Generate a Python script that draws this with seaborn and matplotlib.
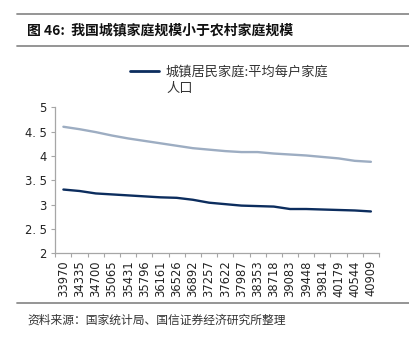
import numpy as np
import pandas as pd
import seaborn as sns
import matplotlib
matplotlib.use("Agg")
import matplotlib.pyplot as plt
from matplotlib.lines import Line2D

# Excel date serials (1 Jan of each year, 1993-2012)
dates = ["33970", "34335", "34700", "35065", "35431", "35796", "36161",
         "36526", "36892", "37257", "37622", "37987", "38353", "38718",
         "39083", "39448", "39814", "40179", "40544", "40909"]
# average persons per household
urban = [3.31, 3.28, 3.23, 3.21, 3.19, 3.17, 3.15, 3.14, 3.10, 3.04,
         3.01, 2.98, 2.97, 2.96, 2.91, 2.91, 2.90, 2.89, 2.88, 2.86]
rural = [4.60, 4.55, 4.49, 4.42, 4.36, 4.31, 4.26, 4.21, 4.16, 4.13,
         4.10, 4.08, 4.08, 4.05, 4.03, 4.01, 3.98, 3.95, 3.90, 3.88]
urban_label = "城镇居民家庭:平均每户家庭人口"
rural_label = "农村居民家庭:平均每户家庭人口"
yticks = [2, 2.5, 3, 3.5, 4, 4.5, 5]
ytick_labels = ["2", "2. 5", "3", "3. 5", "4", "4. 5", "5"]

title = "图 46:  我国城镇家庭规模小于农村家庭规模"
source = "资料来源：国家统计局、国信证券经济研究所整理"

NAVY = "#0C2D5E"
GREYBLUE = "#9DADC2"
AXIS_GREY = "#A6A6A6"

sns.set_theme(style="white")
plt.rcParams["font.family"] = ["Noto Sans CJK SC", "DejaVu Sans"]

df = pd.DataFrame({
    "date": dates * 2,
    "value": urban + rural,
    "series": [urban_label] * len(dates) + [rural_label] * len(dates),
})

W, H = 410, 337
fig = plt.figure(figsize=(W / 100, H / 100), dpi=100)
ax = fig.add_axes([55.3 / W, 1 - 253.3 / H, (379 - 55.3) / W, (253.3 - 107.3) / H])

sns.lineplot(data=df, x="date", y="value", hue="series",
             palette={urban_label: NAVY, rural_label: GREYBLUE},
             linewidth=1.7, ax=ax, legend=False, sort=False)

ax.set_xlim(-0.5, len(dates) - 0.5)
ax.set_ylim(2, 5)
ax.set_xlabel("")
ax.set_ylabel("")

for side in ("top", "right"):
    ax.spines[side].set_visible(False)
for side in ("left", "bottom"):
    ax.spines[side].set_color(AXIS_GREY)
    ax.spines[side].set_linewidth(0.9)

# category labels centred, tick marks on category boundaries
ax.set_xticks(range(len(dates)))
ax.set_xticklabels(dates, rotation=90, fontsize=8.3, family="DejaVu Sans")
ax.set_xticks(np.arange(-0.5, len(dates), 1.0), minor=True)
ax.tick_params(axis="x", which="major", length=0, pad=5, colors="#222222")
ax.tick_params(axis="x", which="minor", length=3.2, width=0.8,
               color=AXIS_GREY, direction="out", bottom=True)

ax.set_yticks(yticks)
ax.set_yticklabels(ytick_labels, fontsize=8.3, family="DejaVu Sans")
ax.tick_params(axis="y", length=3.2, width=0.8, color=AXIS_GREY,
               direction="out", left=True, pad=3, labelcolor="#222222")

# legend (urban series only)
leg = ax.legend(handles=[Line2D([], [], color=NAVY, lw=2)],
                labels=["城镇居民家庭:平均每户家庭"],
                loc="center left", bbox_to_anchor=(130 / W, 1 - 72.5 / H),
                bbox_transform=fig.transFigure, frameon=False,
                handlelength=2.2, handletextpad=0.5, borderpad=0,
                borderaxespad=0, fontsize=9.5)
for t in leg.get_texts():
    t.set_color("#333333")
fig.text(166 / W, 1 - 88.5 / H, "人口", fontsize=9.5, color="#333333", va="center")

# header and footer
rule = dict(color="#8C8C8C", lw=1.3)
fig.add_artist(Line2D([17 / W, 1], [1 - 14 / H] * 2, **rule))
fig.add_artist(Line2D([17 / W, 1], [1 - 46 / H] * 2, **rule))
fig.add_artist(Line2D([17 / W, 1], [1 - 303 / H] * 2, **rule))
fig.text(27 / W, 1 - 30.5 / H, title, fontsize=10, fontweight="semibold",
         color="#111111", va="center")
fig.text(27 / W, 1 - 320 / H, source, fontsize=8.5, color="#333333", va="center")

fig.savefig("out.png", dpi=100)
